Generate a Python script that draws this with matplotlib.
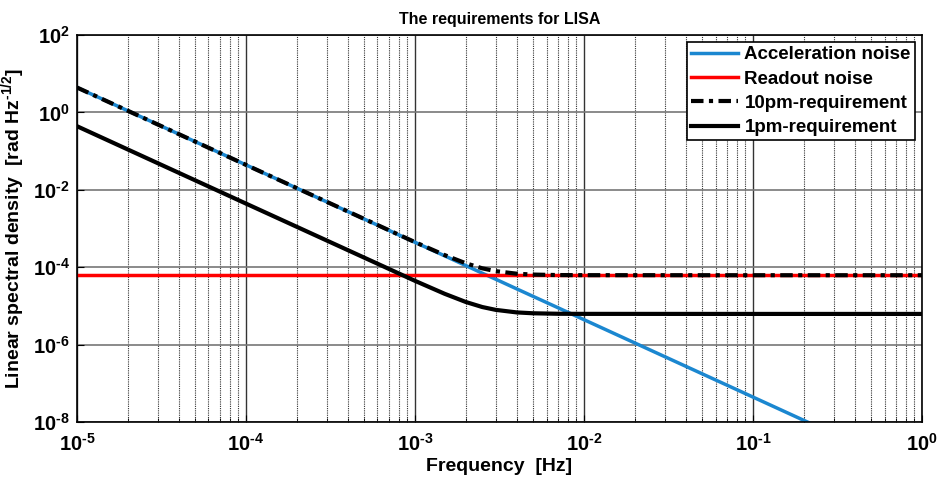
import math
import matplotlib.pyplot as plt
from matplotlib.ticker import LogLocator, FuncFormatter, NullFormatter

plt.rcParams['font.family'] = ['Liberation Sans', 'DejaVu Sans']
plt.rcParams['font.weight'] = 'bold'
plt.rcParams['mathtext.fontset'] = 'custom'
plt.rcParams['mathtext.rm'] = 'Liberation Sans:bold'
plt.rcParams['mathtext.bf'] = 'Liberation Sans:bold'
plt.rcParams['mathtext.it'] = 'Liberation Sans:bold'

# frequency points [Hz] and values [rad Hz^-1/2]
freq = [1e-5, 1e-4, 1e-3, 1.5e-3, 2e-3, 2.5e-3, 3e-3, 4e-3, 5e-3, 7e-3, 1e-2, 1e-1, 1]
acceleration = [4.4, 4.4e-2, 4.4e-4, 1.96e-4, 1.1e-4, 7.0e-5, 4.9e-5, 2.75e-5,
                1.76e-5, 9.0e-6, 4.4e-6, 4.4e-8, 4.4e-10]
readout = [6.2e-5] * len(freq)
req_10pm = [4.4, 4.4e-2, 4.44e-4, 2.05e-4, 1.26e-4, 9.35e-5, 7.9e-5, 6.78e-5,
            6.44e-5, 6.26e-5, 6.22e-5, 6.2e-5, 6.2e-5]
req_1pm = [0.44, 4.4e-3, 4.44e-5, 2.05e-5, 1.26e-5, 9.35e-6, 7.9e-6, 6.78e-6,
           6.44e-6, 6.26e-6, 6.22e-6, 6.2e-6, 6.2e-6]

fig = plt.figure(figsize=(9.38, 4.79), dpi=100)
ax = fig.add_axes([0.082, 0.119, 0.901, 0.808])

ax.loglog(freq, acceleration, color='#1b87d0', lw=2.5, label='Acceleration noise')
ax.loglog(freq, readout, color='#ff0000', lw=2.5, label='Readout noise')
ax.loglog(freq, req_10pm, color='black', lw=3, ls=(0, (3, 1.3, 1, 1.3)),
          label='10pm-requirement')
ax.loglog(freq, req_1pm, color='black', lw=3, label='1pm-requirement')

ax.set_xlim(1e-5, 1)
ax.set_ylim(1e-8, 1e2)


def exp_label(v, pos):
    e = round(math.log10(v))
    sign = r'\text{-}' if e < 0 else ''
    return r'$10^{%s%d}$' % (sign, abs(e))


fmt = FuncFormatter(exp_label)
ax.xaxis.set_major_locator(LogLocator(base=10, numticks=10))
ax.xaxis.set_minor_locator(LogLocator(base=10, subs=range(2, 10), numticks=20))
ax.xaxis.set_major_formatter(fmt)
ax.xaxis.set_minor_formatter(NullFormatter())
ax.set_yticks([1e-8, 1e-6, 1e-4, 1e-2, 1e0, 1e2])
ax.yaxis.set_minor_locator(plt.NullLocator())
ax.yaxis.set_major_formatter(fmt)

ax.grid(True, which='major', axis='x', color='#333333', lw=1, ls='-')
ax.grid(True, which='minor', axis='x', color='#333333', lw=0.8, ls=(0, (1, 1)))
ax.grid(True, which='major', axis='y', color='#777777', lw=1.2, ls='-')

ax.tick_params(which='both', direction='in', labelsize=14.5)
ax.tick_params(axis='x', pad=8)
ax.tick_params(axis='y', pad=5)
ax.tick_params(which='major', length=5)
ax.tick_params(which='minor', length=3)
for s in ax.spines.values():
    s.set_linewidth(1.2)

ax.set_title('The requirements for LISA', fontsize=11.5, fontweight='bold', pad=8)
ax.set_xlabel('Frequency  [Hz]', fontsize=14, fontweight='bold', labelpad=2)
ax.set_ylabel(r'Linear spectral density  [rad Hz$^{\text{-}1/2}$]', fontsize=14,
              fontweight='bold', labelpad=4)

leg = ax.legend(loc='upper right', fontsize=13.5, frameon=True, fancybox=False,
                edgecolor='black', framealpha=1, borderpad=0.2, labelspacing=0.38,
                handlelength=2.5, handletextpad=0.35, borderaxespad=0.4)
leg.get_frame().set_linewidth(1.2)

plt.savefig('out.png', dpi=100)
